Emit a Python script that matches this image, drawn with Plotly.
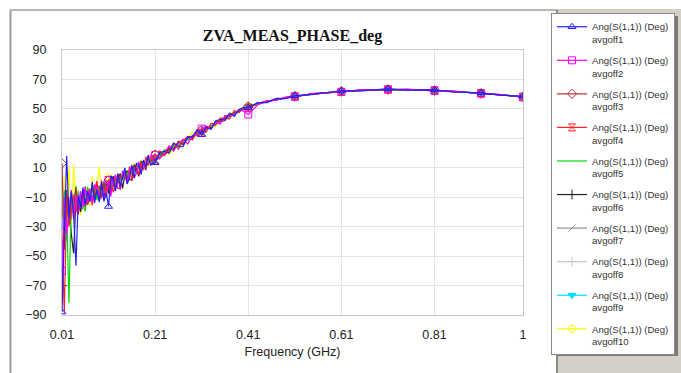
import plotly.graph_objects as go

# ---------------- data ----------------
freq_ghz = [
    0.010, 0.015, 0.020, 0.025, 0.030, 0.035, 0.040, 0.045, 0.050, 0.055,
    0.060, 0.065, 0.070, 0.075, 0.080, 0.085, 0.090, 0.095, 0.100, 0.105,
    0.110, 0.115, 0.120, 0.125, 0.130, 0.135, 0.140, 0.145, 0.150, 0.155,
    0.160, 0.165, 0.170, 0.175, 0.180, 0.185, 0.190, 0.195, 0.200,
    0.21, 0.22, 0.23, 0.24, 0.25, 0.26, 0.27, 0.28, 0.29, 0.30,
    0.31, 0.32, 0.33, 0.34, 0.35, 0.36, 0.37, 0.38, 0.39, 0.40, 0.41,
    0.43, 0.45, 0.47, 0.49, 0.51, 0.55, 0.61, 0.65, 0.71, 0.75,
    0.81, 0.85, 0.91, 0.95, 1.00,
]

avgoff1 = [
    -88, -30.5, 18, -24, -6, -21.2, -56.5, -8.8, -17, -3.3, -15.6, -5.9, -13.2,
    0.5, -13.8, -5, -13.3, 0.4, -12.9, -7.1, -16.3, 4.5, 2.3, -5.8, 6, -3, 4, 10, -1, 3, 12, 3, 13,
    12.2, 5.3, 15.4, 10.5, 18.6, 11.8,
    13.6, 20.4, 21.2, 20, 26.8, 24.6, 24.4, 31.2, 31, 35.8, 32.6, 37.4, 36.2, 42, 42.8, 42.5, 47.2, 44.9, 49.5, 51, 50.7,
    54.2, 54.3, 57.1, 57, 58.9, 59.8, 62.3, 62.2, 63.6, 62.8, 62.9, 61.5, 60.9, 59.3, 58.5,
]
avgoff2 = [
    -60, -10.5, -35, -20, -5, -25.2, -8.5, -19.8, -6, -16.3, -3.6, -13.9, -5.2,
    -13.5, -1.8, -3, -10.3, 1.4, -10.9, -6.1, 1.7, -9.5, 1.3, 5.2, -4, -4, 8, 5, -1, 9, 11, 3, 6,
    14.2, 6.3, 14.4, 9.5, 17.6, 17.8,
    18.6, 16.4, 19.2, 25, 21.8, 26.6, 29.4, 26.2, 32, 31.8, 36.6, 38.4, 36.2, 41, 39.8, 45.5, 45.2, 45.9, 49.5, 48.5, 46.2,
    52.6, 55.6, 55.8, 58, 58.2, 60.6, 61.5, 62.9, 63, 63.4, 62.2, 62.1, 60.3, 59.9, 57.9,
]
avgoff3 = [
    13, -45.5, -5, -28, -12, -18.2, -3.5, -21.8, -9, -14.3, -2.6, -14.9, -7.2, -3.5, -10.8, -4, -2.3, -10.6, -0.9, -5.1,
    1.7, -3.5, -2.7, 3.2, 0, 5, 2, 7, 3, 8, 6, 10, 7, 12.2, 9.3, 13.4, 11.5, 15.6, 13.8,
    19.1, 16.4, 21.2, 24, 21.3, 28.1, 25.9, 31.2, 29.5, 34.3, 35.6, 37.9, 36.7, 41.5, 41.3, 42, 46.7, 45.9, 49.5, 49.5, 51.8,
    53.8, 55.4, 55.9, 57.8, 58.7, 60, 62, 62.4, 63.1, 63.3, 62.3, 62, 60.4, 59.7, 58,
]
avgoff4 = [
    -40, -88.5, -12, -30, -20, -8.2, -20.5, -9.8, -15, -5.3, -16.6, -7.9, -4.2,
    -15.5, -4.8, 1, -12.3, -8.6, 0.1, -10.1, -1.3, 4.5, -6.7, -2.8, 6, -5, 5, 7, 0, 11, 1, 9, 13,
    5.2, 13.3, 8.4, 17.5, 11.6, 16.8,
    14.6, 21.4, 18.2, 22, 26.8, 22.6, 28.4, 31.2, 29, 34.8, 33.6, 34.4, 40.2, 39, 43.8, 43.5, 43.2, 48.9, 47.5, 51, 50.7,
    53.9, 54.6, 56.8, 57.2, 58.6, 60.4, 61.6, 62.8, 63.3, 62.9, 62.7, 61.6, 60.8, 59.4, 58.3,
]
avgoff5 = [
    -25, -5.5, -20, -82, -10, -15.2, -2.5, -17.8, -8, -13.3, -19.6, -2.9, -11.2, -5.5, -1.8, -12, -3.3, -7.6, 1.1, -5.1,
    0.7, -1.5, 1.3, -1.8, 4, 0, 6, 3, 7, 5, 9, 9.5, 7, 11.5, 9, 13.5, 11, 15.5, 13.5,
    17.6, 17.4, 22.2, 20, 25.3, 24.1, 28.9, 28.7, 30, 34.3, 33.6, 37.9, 38.2, 39, 43.3, 42.5, 46.2, 46.4, 49, 50.5, 51.5,
    53.1, 55.2, 56.1, 57.7, 58.3, 60.2, 61.9, 62.5, 63.3, 63, 62.6, 61.7, 60.7, 59.5, 58.3,
]
avgoff6 = [
    -70, -20.5, -8, -15, -35, -48.2, -10.5, -13.8, -20, -8.3, -11.6, -14.9, -6.2,
    -12.5, -5.8, -1, -11.3, -2.6, -11.9, -0.1, -4.3, -7.5, 4.3, -3.8, 2, 6, -4, 5, 8, 2, 2, 12, 9,
    4.2, 14.3, 13.4, 8.5, 16.6, 13.8,
    16.1, 19.4, 18.7, 23.5, 22.8, 27.6, 25.9, 30.7, 30, 33.8, 34.6, 37.4, 37.2, 41, 41.3, 44.5, 44.7, 47.9, 48, 50.5, 51,
    53.3, 55.1, 56.3, 57.5, 58.5, 60.2, 61.8, 62.6, 63.2, 63.1, 62.5, 61.8, 60.6, 59.6, 58.2,
]
avgoff7 = [
    -15, -29.5, -22, -10, -25, -12.2, -15.5, -5.8, -14, -18.3, -7.6, -11.9, -10.2, -5.5, -8.8, -8, -4.3, -6.6, -5.9, -1.1,
    -3.3, -0.5, -0.7, 2.2, -1, 3, 4, 5, 3, 6, 7, 8, 8, 11.2, 10.3, 11.4, 13.5, 12.6, 14.8,
    16, 18.9, 20.8, 21.3, 24.3, 25, 28.1, 28.7, 31.6, 32.2, 35.2, 36, 38.7, 39.6, 42.3, 43.1, 45.7, 46.6, 49, 49.8, 51.4,
    53.3, 55, 56.3, 57.5, 58.5, 60.2, 61.8, 62.6, 63.2, 63.1, 62.5, 61.8, 60.6, 59.6, 58.2,
]
avgoff8 = [
    -10, -22, -28, -14, -18, -10, -19, -11, -9, -15, -10, -7, -12, -7, -6, -9, -5, -3, -6, -3,
    -2, -3, 0, -1, 1, 2, 2, 4, 5, 5, 7, 7, 9, 9, 11, 11, 12, 14, 14,
    16.8, 18, 20.5, 21.5, 24, 25.2, 27.8, 28.9, 31.3, 32.5, 35, 36.2, 38.5, 39.8, 42, 43.3, 45.4, 46.7, 48.7, 49.8, 51.4,
    53.3, 55, 56.3, 57.5, 58.5, 60.2, 61.8, 62.6, 63.2, 63.1, 62.5, 61.8, 60.6, 59.6, 58.2,
]
avgoff9 = [
    -30, -15, -40, -12, -20, -9, -15, -17, -6, -12, -9, -13, -6, -10, -4, -9, -7, -3, -5, -4,
    -1, -2, -3, 1, 1, 1, 4, 3, 6, 5, 7, 8, 9, 9, 12, 11, 13, 15, 15,
    16.2, 19.4, 19.8, 23, 23.2, 26.3, 27, 29.9, 30.6, 33.4, 34.2, 36.9, 37.9, 40.4, 41.5, 43.9, 45, 47.2, 48.3, 50.3, 51,
    53.2, 55.1, 56.2, 57.6, 58.4, 60.3, 61.7, 62.7, 63.1, 63.2, 62.4, 61.9, 60.5, 59.7, 58.1,
]
avgoff10 = [
    -50, 5, -30, 11, -28, 12, -18, -5, -22, -8, -12, -6, -16,
    4.5, -12.8, -3, 10.7, -9.6, -1.9, -9.1, 3.7, -4.5, -5.7, 5.2, 3, -4, 4, 9, 1, 9, 4, 13, 10,
    5.2, 15.3, 12.4, 16.5, 10.6, 17.8,
    19.6, 17.4, 22.2, 19, 23.8, 27.6, 25.4, 30.2, 34, 30.8, 34.6, 38.4, 37.2, 38, 43.8, 42.5, 47.2, 46.9, 47.5, 50.5, 51.7,
    53.3, 55, 56.3, 57.5, 58.5, 60.2, 61.8, 62.6, 63.2, 63.1, 62.5, 61.8, 60.6, 59.6, 58.2,
]

series_names = [f"Ang(S(1,1)) (Deg)<br>avgoff{i}" for i in range(1, 11)]
series_values = [avgoff1, avgoff2, avgoff3, avgoff4, avgoff5,
                 avgoff6, avgoff7, avgoff8, avgoff9, avgoff10]
marker_freqs = [0.01, 0.11, 0.21, 0.31, 0.41, 0.51, 0.61, 0.71, 0.81, 0.91, 1.00]

x_ticks = [0.01, 0.21, 0.41, 0.61, 0.81, 1.0]
x_tick_text = ["0.01", "0.21", "0.41", "0.61", "0.81", "1"]
y_ticks = [90, 70, 50, 30, 10, -10, -30, -50, -70, -90]

# ---------------- styles ----------------
colors = ["#2020ff", "#ff00ff", "#b03030", "#ff2020", "#00dd00",
          "#202020", "#909090", "#c8c8c8", "#00e0ff", "#ffff00"]
symbols = ["triangle-up-open", "square-open", "diamond-open", "hourglass-open", None,
           "cross-thin-open", "line-ne-open", "cross-thin-open", "triangle-down", "circle-open"]

W, H = 681, 373
ML, MR, MT, MB = 62, 158, 50, 58
PW, PH = W - ML - MR, H - MT - MB


def px_x(p):
    return (p - ML) / PW


def px_y(p):
    return (H - MB - p) / PH


marker_idx = [i for i, f in enumerate(freq_ghz)
              if any(abs(f - m) < 1e-9 for m in marker_freqs)]

fig = go.Figure()
for k in list(range(10))[::-1]:
    sym = symbols[k]
    tr = dict(
        x=freq_ghz, y=series_values[k], name=series_names[k],
        legendgroup=f"g{k}", legendrank=k + 1,
        line=dict(color=colors[k], width=1.2),
        hoverinfo="skip",
    )
    if sym is None:
        tr["mode"] = "lines"
    else:
        tr["mode"] = "lines+markers"
        tr["marker"] = dict(symbol=sym, size=7, color=colors[k],
                            line=dict(color=colors[k], width=1))
        tr["selectedpoints"] = marker_idx
        tr["selected"] = dict(marker=dict(opacity=1))
        tr["unselected"] = dict(marker=dict(opacity=0))
    fig.add_trace(go.Scatter(**tr))

shapes = [
    dict(type="rect", xref="paper", yref="paper", layer="below",
         x0=px_x(557), x1=px_x(690), y0=px_y(380), y1=px_y(9),
         fillcolor="#d4d0c8", line=dict(width=0)),
    dict(type="line", xref="paper", yref="paper", layer="below",
         x0=px_x(10.5), x1=px_x(10.5), y0=px_y(380), y1=px_y(9.5),
         line=dict(color="#a09c98", width=2)),
    dict(type="line", xref="paper", yref="paper", layer="below",
         x0=px_x(10), x1=px_x(557), y0=px_y(10), y1=px_y(10),
         line=dict(color="#b8b4b0", width=2)),
    dict(type="line", xref="paper", yref="paper", layer="below",
         x0=px_x(557), x1=px_x(557), y0=px_y(380), y1=px_y(10),
         line=dict(color="#8c8a86", width=2)),
    # legend drop shadow
    dict(type="rect", xref="paper", yref="paper", layer="above",
         x0=px_x(557), x1=px_x(678), y0=px_y(356), y1=px_y(16),
         fillcolor="#7c7a78", line=dict(width=0)),
]

fig.update_layout(
    width=W, height=H,
    margin=dict(l=ML, r=MR, t=MT, b=MB, pad=0, autoexpand=False),
    paper_bgcolor="#ffffff",
    plot_bgcolor="#ffffff",
    font=dict(family="Liberation Sans, Arial, sans-serif", color="#222222", size=12),
    title=dict(text="<b>ZVA_MEAS_PHASE_deg</b>", x=0.5, xref="paper", xanchor="center",
               y=1 - 35.5 / H, yref="container", yanchor="middle",
               font=dict(family="Liberation Serif, Times New Roman, serif", size=16, color="#111111")),
    showlegend=True,
    legend=dict(x=px_x(675), y=px_y(13), xanchor="right", yanchor="top",
                bgcolor="#ffffff", bordercolor="#8a8a8a", borderwidth=1,
                font=dict(family="Liberation Sans, Arial, sans-serif", size=9.6, color="#333333"),
                itemwidth=30, valign="top", tracegroupgap=5.6, traceorder="grouped"),
    shapes=shapes,
    xaxis=dict(range=[0.01, 1.0], tickvals=x_ticks, ticktext=x_tick_text,
               showgrid=True, gridcolor="#e4e4e4", gridwidth=1,
               showline=True, linecolor="#c8c8c8", linewidth=1, mirror=True,
               zeroline=False, ticks="", ticklabelstandoff=8,
               tickfont=dict(size=12.5),
               title=dict(text="Frequency (GHz)", font=dict(size=12.5), standoff=6)),
    yaxis=dict(range=[-90, 90], tickvals=y_ticks,
               showgrid=True, gridcolor="#e4e4e4", gridwidth=1,
               showline=True, linecolor="#c8c8c8", linewidth=1, mirror=True,
               zeroline=False, ticks="", ticklabelstandoff=12,
               tickfont=dict(size=12.5)),
)
try:
    fig.update_layout(legend_maxheight=372)
except Exception:
    pass

fig.write_html("out.html",
               config={"displayModeBar": False, "staticPlot": True},
               post_script="document.body.style.margin='0px';"
                           "document.body.style.overflow='hidden';")
